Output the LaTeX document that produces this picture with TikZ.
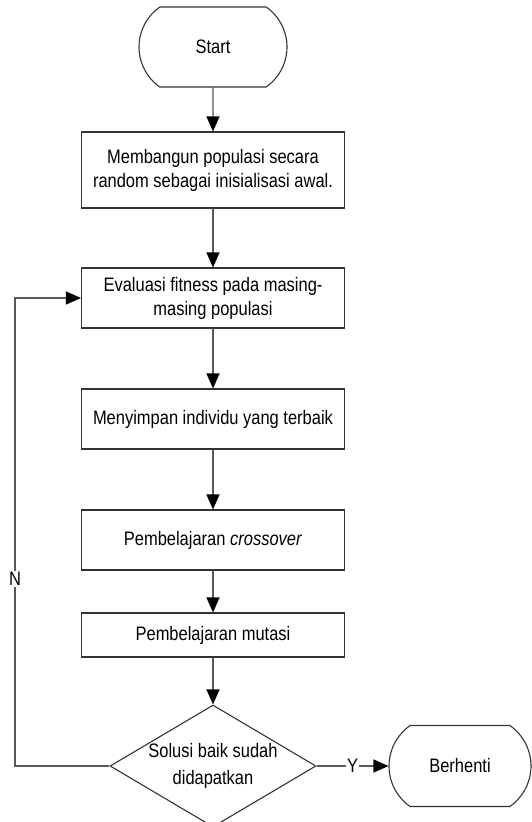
\documentclass[tikz,border=0pt]{standalone}
\usepackage{fontspec}
\setmainfont{Liberation Sans}[FakeStretch=0.845]
\usetikzlibrary{arrows.meta,shapes.geometric,shapes.misc}

\begin{document}
\begin{tikzpicture}[x=1pt,y=-1pt,font=\fontsize{19.5}{24}\selectfont,line width=1.1pt,
  every node/.style={align=center},
  procbox/.style={draw=black!80,rectangle,minimum width=263,minimum height=60,inner sep=0pt},
  termbox/.style={draw=black!80,rounded rectangle,rounded rectangle arc length=110,
    minimum width=148,minimum height=80,inner sep=0pt},
  decbox/.style={draw=black!80,diamond,aspect=1.69,minimum width=206,minimum height=122,inner sep=0pt},
  flow/.style={draw=black!65,-{Triangle[length=15pt,width=13pt,fill=black,color=black]}},
  lbl/.style={fill=white,inner sep=1pt}]
  \useasboundingbox (0,0) rectangle (532,822);
  % main column
  \node[termbox] (start) at (213,47) {Start};
  \node[procbox,minimum height=76] (init) at (213,170) {Membangun populasi secara\\random sebagai inisialisasi awal.};
  \node[procbox] (eval) at (213,298) {Evaluasi fitness pada masing-\\masing populasi};
  \node[procbox] (elite) at (213,419) {Menyimpan individu yang terbaik};
  \node[procbox] (cross) at (213,540) {Pembelajaran \textit{crossover}};
  \node[procbox,minimum height=44] (mut) at (213,635) {Pembelajaran mutasi};
  \node[decbox,font=\fontsize{19.5}{27}\selectfont] (cek) at (213,766) {Solusi baik sudah\\didapatkan};
  \node[termbox,minimum width=142,minimum height=81] (stop) at (460,766) {Berhenti};
  \foreach \a/\b in {start/init,init/eval,eval/elite,elite/cross,cross/mut,mut/cek}
    \draw[flow] (\a) -- (\b);
  % exits
  \draw[flow] (cek) -- node[lbl] (yes) {Y} (stop);
  \coordinate (loopbot) at (15,766);
  \coordinate (looptop) at (15,298);
  \draw[flow] (cek.west) -- (loopbot) -- node[lbl,pos=0.4] (no) {N} (looptop) -- (eval.west);
\end{tikzpicture}
\end{document}
